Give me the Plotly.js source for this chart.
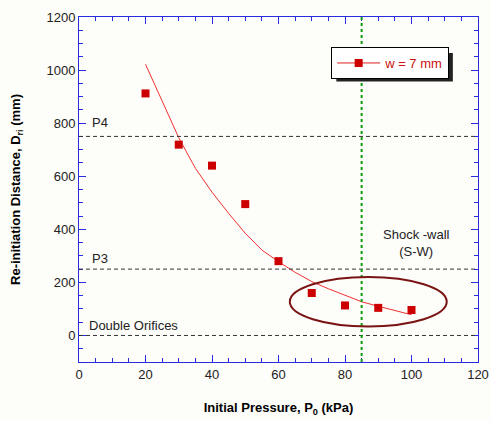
<!DOCTYPE html>
<html>
<head>
<meta charset="utf-8">
<script src="https://cdn.plot.ly/plotly-3.0.1.min.js"></script>
<style>html,body{margin:0;padding:0;background:#fdfdfa;}#chart{width:491px;height:421px;}</style>
</head>
<body>
<div id="chart"></div>
<script>
// Measured data points
var pressure = [20, 30, 40, 50, 60, 70, 80, 90, 100];
var distance = [912, 719, 640, 495, 280, 160, 113, 104, 96];
// Fitted curve
var fitX = [20, 25, 30, 35, 40, 45, 50, 55, 60, 65, 70, 75, 80, 85, 90, 95, 100];
var fitY = [1022, 880, 745, 630, 540, 460, 385, 322, 278, 238, 203, 176, 150, 127, 110, 93, 78];
// Reference levels
var levelY = [750, 250, 0];
var levelLabels = ['P4', 'P3', 'Double Orifices'];
var levelLabelY = [801, 291, 39];
var shockX = 85;
var seriesName = 'w = 7 mm';

var axisColor = '#2a2ae0';
var traces = [
  {x: fitX, y: fitY, mode: 'lines', line: {color: '#f03030', width: 1}, showlegend: false, hoverinfo: 'skip'},
  {x: pressure, y: distance, mode: 'markers', marker: {symbol: 'square', size: 8, color: '#cc0000'}, showlegend: false},
  {x: [null], y: [null], mode: 'lines+markers', name: seriesName,
   line: {color: '#e02020', width: 1}, marker: {symbol: 'square', size: 8, color: '#cc0000'}}
];

var shapes = [];
levelY.forEach(function (v) {
  shapes.push({type: 'line', xref: 'x', yref: 'y', x0: 0, x1: 120, y0: v, y1: v,
    line: {color: '#333333', width: 1, dash: '4px,3px'}});
});
shapes.push({type: 'line', xref: 'x', yref: 'paper', x0: shockX, x1: shockX, y0: 0, y1: 1,
  line: {color: '#119911', width: 2, dash: 'dot'}});
shapes.push({type: 'circle', xref: 'x', yref: 'y', x0: 63.4, x1: 110.6, y0: 34, y1: 220,
  line: {color: '#7a1414', width: 2}});
// legend drop shadow
shapes.push({type: 'rect', xref: 'paper', yref: 'paper', x0: 0.645, x1: 0.937, y0: 0.813, y1: 0.896,
  fillcolor: '#222222', line: {width: 0}, layer: 'above'});

var annotations = [];
levelLabels.forEach(function (t, i) {
  annotations.push({x: i === 2 ? 2.4 : 3.2, y: levelLabelY[i], xref: 'x', yref: 'y', text: t, showarrow: false,
    xanchor: 'left', yanchor: 'middle', font: {family: 'Arial, Liberation Sans, sans-serif', size: 13, color: '#222222'}});
});
annotations.push({x: 101.4, y: 347, xref: 'x', yref: 'y', text: 'Shock -wall<br>(S-W)', showarrow: false,
  xanchor: 'center', yanchor: 'middle', font: {family: 'Arial, Liberation Sans, sans-serif', size: 13, color: '#222222'}});

var layout = {
  width: 491, height: 421,
  margin: {l: 79, r: 13, t: 17, b: 59},
  paper_bgcolor: '#fdfdfa', plot_bgcolor: '#fdfdfa',
  font: {family: 'Arial, Liberation Sans, sans-serif', size: 13, color: '#222222'},
  showlegend: true,
  legend: {x: 0.632, y: 0.913, xanchor: 'left', yanchor: 'top', bgcolor: '#ffffff',
    bordercolor: '#000000', borderwidth: 1, itemwidth: 43,
    font: {color: '#cc1111', size: 13}},
  xaxis: {range: [0, 120], tick0: 0, dtick: 20, showgrid: false, zeroline: false,
    showline: true, linecolor: axisColor, linewidth: 1, mirror: 'ticks',
    ticks: 'inside', ticklen: 7, tickcolor: axisColor, tickwidth: 1,
    minor: {dtick: 5, ticks: 'inside', ticklen: 4, tickcolor: axisColor, tickwidth: 1, showgrid: false},
    title: {text: '<b>Initial Pressure, P<sub>0</sub> (kPa)</b>', standoff: 22, font: {size: 13, color: '#000000'}}},
  yaxis: {range: [-100, 1200], tick0: 0, dtick: 200, showgrid: false, zeroline: false,
    showline: true, linecolor: axisColor, linewidth: 1, mirror: 'ticks',
    ticks: 'inside', ticklen: 7, tickcolor: axisColor, tickwidth: 1,
    minor: {dtick: 50, ticks: 'inside', ticklen: 4, tickcolor: axisColor, tickwidth: 1, showgrid: false},
    title: {text: '<b>Re-initiation Distance, D<sub>ri</sub> (mm)</b>', standoff: 22, font: {size: 13, color: '#000000'}}},
  shapes: shapes,
  annotations: annotations
};

Plotly.newPlot('chart', traces, layout, {displayModeBar: false, staticPlot: true});
</script>
</body>
</html>
